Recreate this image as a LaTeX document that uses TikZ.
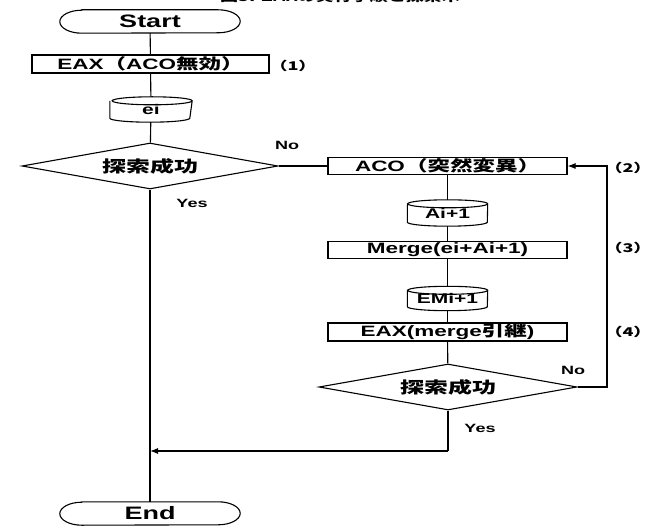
\documentclass[tikz,border=0pt]{standalone}
\usepackage{fontspec}
\setmainfont{Liberation Sans}[FakeStretch=1.5]
\newfontfamily\jp{Noto Sans CJK JP}[FakeStretch=1.5]
\usetikzlibrary{shapes.geometric,arrows.meta}
\tikzset{
  ln/.style={line width=1.1pt},
  procbox/.style={draw, line width=1.1pt, minimum width=239pt, minimum height=17pt, inner sep=0pt, font=\bfseries\fontsize{15}{15}\selectfont},
  decision/.style={draw, diamond, line width=1.1pt, minimum width=256pt, minimum height=46pt, inner sep=0pt, aspect=5.5, font=\jp\bfseries\fontsize{16}{16}\selectfont},
  termtext/.style={minimum width=180pt, minimum height=23pt, inner sep=0pt, font=\bfseries\fontsize{18}{18}\selectfont},
  drumtext/.style={minimum width=80pt, minimum height=25pt, inner sep=0pt, font=\bfseries\fontsize{14}{14}\selectfont},
  lbl/.style={inner sep=0pt, font=\bfseries\fontsize{12}{12}\selectfont},
  jlbl/.style={inner sep=0pt, font=\jp\bfseries\fontsize{12}{12}\selectfont},
  arr/.style={-{Latex[length=8pt,width=6pt]}}
}
\newcommand\termshape[1]{%
  \draw[ln] ([xshift=22pt]#1.north west) -- ([xshift=-22pt]#1.north east)
    arc[start angle=90,end angle=-90,x radius=22pt,y radius=11.5pt]
    -- ([xshift=22pt]#1.south west)
    arc[start angle=270,end angle=90,x radius=22pt,y radius=11.5pt] -- cycle;}
\newcommand\drumshape[1]{%
  \draw[ln] ([yshift=-4pt]#1.north west) -- ([yshift=4pt]#1.south west)
    arc[start angle=180,end angle=360,x radius=40pt,y radius=4pt]
    -- ([yshift=-4pt]#1.north east)
    arc[start angle=0,end angle=180,x radius=40pt,y radius=4pt]
    arc[start angle=180,end angle=360,x radius=40pt,y radius=4pt];}
\begin{document}
\begin{tikzpicture}[x=1pt,y=1pt]
\useasboundingbox (0,0) rectangle (652,-526);
% title (mostly cut off at the top, as in the reference)
\node[anchor=base, inner sep=0pt, font=\jp\bfseries\fontsize{12}{12}\selectfont] (title) at (340,-1.5) {図5. {\rmfamily\bfseries EAX}の実行手順と探索木};
% left column
\node[termtext] (start) at (150,-21.5) {Start};
\termshape{start}
\node[procbox, minimum width=237pt, minimum height=18pt] (eax1) at (150.5,-64) {EAX{\jp（}ACO{\jp 無効）}};
\node[drumtext, minimum width=82pt] (ei) at (151,-109.5) {ei};
\drumshape{ei}
\node[decision] (dec1) at (150,-166) {探索成功};
\node[termtext] (end) at (150,-513.5) {End};
\termshape{end}
% right column
\node[procbox] (aco) at (447.5,-166) {ACO{\jp（突然変異）}};
\node[drumtext, minimum height=26pt] (ai) at (447.5,-213) {Ai+1};
\drumshape{ai}
\node[procbox] (merge) at (447.5,-250) {Merge(ei+Ai+1)};
\node[drumtext, minimum height=24pt] (emi) at (447.5,-298.5) {EMi+1};
\drumshape{emi}
\node[procbox, minimum height=18pt] (eax2) at (447.5,-332) {EAX(merge{\jp 引継})};
\node[decision, minimum width=258pt] (dec2) at (448,-387) {探索成功};
% labels
\node[jlbl] (l1) at (293,-66) {（1）};
\node[jlbl] (l2) at (628,-168) {（2）};
\node[jlbl] (l3) at (628,-248) {（3）};
\node[jlbl] (l4) at (628,-332) {（4）};
\node[lbl] (no1) at (287,-145) {No};
\node[lbl] (yes1) at (192,-203) {Yes};
\node[lbl] (no2) at (573,-370) {No};
\node[lbl] (yes2) at (480,-428) {Yes};
% connectors
\draw[ln] (start) -- (eax1);
\draw[ln] (eax1) -- (ei);
\draw[ln] (ei) -- (dec1);
\draw[ln] (dec1) -- (end);
\draw[ln] (dec1.east) -- (aco.west);
\draw[ln] (aco) -- (ai);
\draw[ln] (ai) -- (merge);
\draw[ln] (merge) -- (emi);
\draw[ln] (emi) -- (eax2);
\draw[ln] (eax2) -- (dec2);
\coordinate (fb) at (607,-387);
\draw[ln,arr] (dec2.east) -- (fb) |- (aco.east);
\coordinate (ret) at (448,-451);
\draw[ln] (dec2.south) -- (ret);
\draw[ln,arr] (ret) -- (ret -| dec1.south);
\end{tikzpicture}
\end{document}
